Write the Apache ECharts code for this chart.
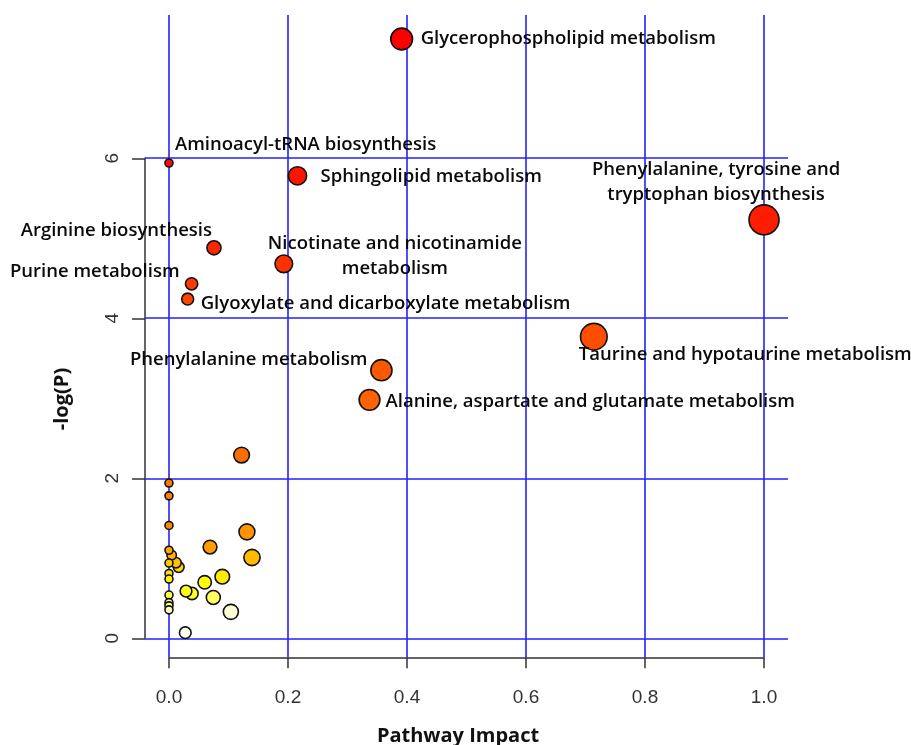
<!DOCTYPE html>
<html>
<head>
<meta charset="utf-8">
<script src="https://cdn.jsdelivr.net/npm/echarts@6/dist/echarts.min.js"></script>
<style>html,body{margin:0;padding:0;background:#fff}#c{width:911px;height:745px}</style>
</head>
<body>
<div id="c"></div>
<script>
// ---- data ----
var pathwayNames = [
  'Glycerophospholipid metabolism',
  'Aminoacyl-tRNA biosynthesis',
  'Sphingolipid metabolism',
  'Phenylalanine, tyrosine and\ntryptophan biosynthesis',
  'Arginine biosynthesis',
  'Nicotinate and nicotinamide\nmetabolism',
  'Purine metabolism',
  'Glyoxylate and dicarboxylate metabolism',
  'Taurine and hypotaurine metabolism',
  'Phenylalanine metabolism',
  'Alanine, aspartate and glutamate metabolism',
  '', '', '', '', '', '', '', '', '', '', '', '', '', '', '', '', '', '', '', '', '', '', '', '', ''
];
var pathwayImpact = [
  0.391, 0.000, 0.216, 1.000, 0.0756, 0.193, 0.038, 0.0314, 0.714, 0.357, 0.337,
  0.122, 0.000, 0.000, 0.000, 0.131, 0.069, 0.1395, 0.000, 0.0045, 0.000, 0.0118,
  0.0163, 0.000, 0.000, 0.0896, 0.060, 0.0286, 0.0387, 0.000, 0.0745, 0.000, 0.000,
  0.000, 0.104, 0.0274
];
var negLogP = [
  7.49, 5.94, 5.78, 5.23, 4.88, 4.68, 4.43, 4.24, 3.77, 3.35, 2.98,
  2.29, 1.94, 1.78, 1.41, 1.33, 1.14, 1.01, 1.10, 1.04, 0.94, 0.945,
  0.89, 0.81, 0.74, 0.77, 0.70, 0.59, 0.56, 0.54, 0.51, 0.445, 0.405,
  0.355, 0.33, 0.07
];
var xTicks = [0, 0.2, 0.4, 0.6, 0.8, 1.0];
var yTicks = [0, 2, 4, 6];

// ---- label placement (style) ----
var labelPlace = {
  'Glycerophospholipid metabolism': ['left', 19, 0],
  'Aminoacyl-tRNA biosynthesis': ['left', 6, -18],
  'Sphingolipid metabolism': ['left', 23, 1],
  'Phenylalanine, tyrosine and\ntryptophan biosynthesis': ['center', -48, -38],
  'Arginine biosynthesis': ['right', -2, -17],
  'Nicotinate and nicotinamide\nmetabolism': ['center', 111, -8],
  'Purine metabolism': ['right', -12, -12],
  'Glyoxylate and dicarboxylate metabolism': ['left', 13, 5],
  'Taurine and hypotaurine metabolism': ['left', -15, 18],
  'Phenylalanine metabolism': ['right', -14, -11],
  'Alanine, aspartate and glutamate metabolism': ['left', 16, 2]
};

// R heat.colors(n)
function heatColors(n) {
  var j = Math.floor(n / 4), i = n - j, out = [];
  for (var k = 0; k < i; k++) {
    var h = (i > 1 ? k / (i - 1) : 0) / 6;
    var g = Math.round(255 * h * 6);
    out.push('rgb(255,' + g + ',0)');
  }
  for (var m = 0; m < j; m++) {
    var s0 = 1 - 1 / (2 * j), s1 = 1 / (2 * j);
    var s = j > 1 ? s0 + (s1 - s0) * m / (j - 1) : s0;
    out.push('rgb(255,255,' + Math.round(255 * (1 - s)) + ')');
  }
  return out;
}
var order = negLogP.map(function (v, i) { return i; }).sort(function (a, b) { return negLogP[b] - negLogP[a]; });
var palette = heatColors(negLogP.length);
var colorOf = [];
order.forEach(function (idx, r) { colorOf[idx] = palette[r]; });

var points = pathwayNames.map(function (nm, i) {
  var item = { name: nm, value: [pathwayImpact[i], negLogP[i]], itemStyle: { color: colorOf[i] } };
  if (labelPlace[nm]) item.label = { show: true };
  return item;
});
points.sort(function (a, b) { return b.value[0] - a.value[0]; });

var blue = '#2222ff';
var markData = xTicks.map(function (v) { return { xAxis: v }; })
  .concat(yTicks.map(function (v) { return { yAxis: v }; }));

var chart = echarts.init(document.getElementById('c'), null, { renderer: 'canvas' });
chart.setOption({
  animation: false,
  backgroundColor: '#fff',
  grid: [
    { left: 145, right: 123, top: 15, bottom: 88 },
    { left: 169, right: 147, top: 158.3, bottom: 106.7 }
  ],
  xAxis: [
    { gridIndex: 0, type: 'value', min: -0.0403, max: 1.0403, show: false },
    { gridIndex: 1, type: 'value', min: 0, max: 1, interval: 0.2, offset: 19, position: 'bottom',
      axisLine: { show: true, onZero: false, lineStyle: { color: '#333', width: 1.5 } },
      axisTick: { show: true, inside: false, length: 11, lineStyle: { color: '#333', width: 1.5 } },
      axisLabel: { margin: 31, fontSize: 19, color: '#333', fontFamily: 'Liberation Sans',
        formatter: function (v) { return v.toFixed(1); } },
      splitLine: { show: false } }
  ],
  yAxis: [
    { gridIndex: 0, type: 'value', min: -0.234, max: 7.79, show: false },
    { gridIndex: 1, type: 'value', min: 0, max: 6, interval: 2, offset: 24, position: 'left',
      axisLine: { show: true, onZero: false, lineStyle: { color: '#333', width: 1.5 } },
      axisTick: { show: true, inside: false, length: 13, lineStyle: { color: '#333', width: 1.5 } },
      axisLabel: { margin: 23, rotate: 90, fontSize: 19, color: '#333', fontFamily: 'Liberation Sans' },
      splitLine: { show: false } }
  ],
  graphic: [
    { type: 'text', style: { text: 'Pathway Impact', x: 458, y: 736, align: 'center', verticalAlign: 'middle',
      font: 'bold 20px "Open Sans"', fill: '#111' } },
    { type: 'text', x: 62, y: 399, rotation: Math.PI / 2, style: { text: '-log(P)', align: 'center', verticalAlign: 'middle',
      font: 'bold 20px "Open Sans"', fill: '#111' } }
  ],
  series: [
    { type: 'scatter', xAxisIndex: 0, yAxisIndex: 0, data: [], silent: true, z: 1,
      markLine: { silent: true, symbol: 'none', label: { show: false },
        lineStyle: { color: blue, width: 1.6, type: 'solid' }, data: markData } },
    { type: 'scatter', xAxisIndex: 1, yAxisIndex: 1, data: [] },
    { type: 'scatter', xAxisIndex: 0, yAxisIndex: 0, z: 5,
      symbolSize: function (val) { return 8 + 22 * Math.sqrt(val[0]); },
      itemStyle: { borderColor: '#111', borderWidth: 1.6, opacity: 1 },
      label: { show: false, position: 'inside', formatter: '{b}', fontFamily: 'Open Sans', fontWeight: 600,
        fontSize: 18.5, color: '#0a0a0a', lineHeight: 25 },
      labelLayout: function (params) {
        var nm = points[params.dataIndex].name;
        var p = labelPlace[nm];
        if (!p) return {};
        return { align: p[0], verticalAlign: 'middle', dx: p[1], dy: p[2], hideOverlap: false };
      },
      data: points }
  ]
});
</script>
</body>
</html>
